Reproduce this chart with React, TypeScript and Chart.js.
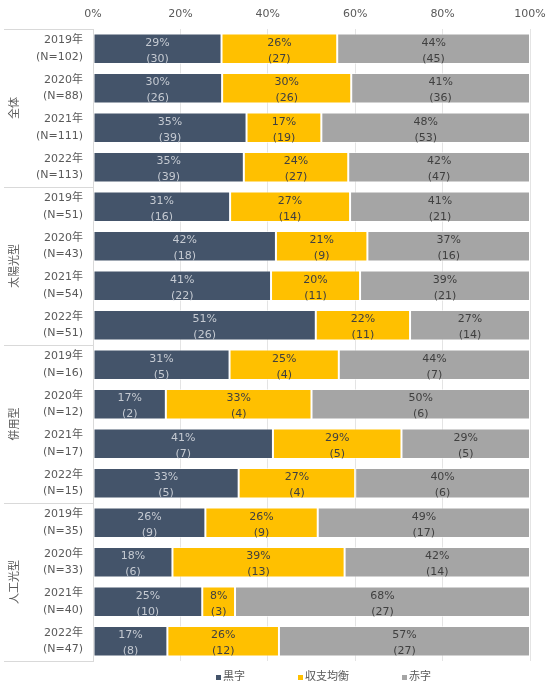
import React, { useEffect, useRef } from 'react';
import { Chart, registerables } from 'chart.js';

Chart.register(...registerables);

// ---- data ----
const yearLabels = [
  '2019年', '2020年', '2021年', '2022年',
  '2019年', '2020年', '2021年', '2022年',
  '2019年', '2020年', '2021年', '2022年',
  '2019年', '2020年', '2021年', '2022年',
];
const sampleN = [102, 88, 111, 113, 51, 43, 54, 51, 16, 12, 17, 15, 35, 33, 40, 47];
const groupNames = ['全体', '太陽光型', '併用型', '人工光型'];
const groupSize = 4;
const seriesNames = ['黒字', '収支均衡', '赤字'];
const kurojiCounts = [30, 26, 39, 39, 16, 18, 22, 26, 5, 2, 7, 5, 9, 6, 10, 8];
const kinkoCounts = [27, 26, 19, 27, 14, 9, 11, 11, 4, 4, 5, 4, 9, 13, 3, 12];
const akajiCounts = [45, 36, 53, 47, 21, 16, 21, 14, 7, 6, 5, 6, 17, 14, 27, 27];
const xTickValues = [0, 20, 40, 60, 80, 100];

const seriesColors = ['#44546A', '#FFC000', '#A5A5A5'];
const valueLabelColors = ['#C5CAD2', '#404040', '#404040'];
const FONT = '"DejaVu Sans", "Noto Sans CJK JP", sans-serif';

const seriesCounts = [kurojiCounts, kinkoCounts, akajiCounts];

const segmentLabelPlugin = {
  id: 'segmentLabels',
  afterDatasetsDraw(chart: any) {
    const ctx = chart.ctx;
    ctx.save();
    ctx.font = `11px ${FONT}`;
    ctx.textAlign = 'center';
    ctx.textBaseline = 'middle';
    chart.data.datasets.forEach((ds: any, di: number) => {
      const meta = chart.getDatasetMeta(di);
      meta.data.forEach((el: any, i: number) => {
        const cnt = seriesCounts[di][i];
        const pct = Math.round((cnt * 100) / sampleN[i]);
        const cx = (el.x + el.base) / 2;
        ctx.fillStyle = valueLabelColors[di];
        ctx.fillText(pct + '%', cx, el.y - 6);
        ctx.fillText('(' + cnt + ')', cx, el.y + 10);
      });
    });
    ctx.restore();
  },
};

const groupAxisPlugin = {
  id: 'groupAxis',
  afterDraw(chart: any) {
    const ctx = chart.ctx;
    const y = chart.scales.y;
    const left = chart.chartArea.left;
    const pitch = y.getPixelForValue(1) - y.getPixelForValue(0);
    ctx.save();
    ctx.strokeStyle = '#D9D9D9';
    ctx.lineWidth = 1;
    groupNames.forEach((name, g) => {
      const top = y.getPixelForValue(g * groupSize) - pitch / 2;
      const bottom = y.getPixelForValue(g * groupSize + groupSize - 1) + pitch / 2;
      const lines = g === groupNames.length - 1 ? [top, bottom] : [top];
      lines.forEach((ly) => {
        const py = Math.round(ly) + 0.5;
        ctx.beginPath();
        ctx.moveTo(4, py);
        ctx.lineTo(left, py);
        ctx.stroke();
      });
      ctx.save();
      ctx.translate(15, (top + bottom) / 2);
      ctx.rotate(-Math.PI / 2);
      ctx.font = `11px ${FONT}`;
      ctx.fillStyle = '#595959';
      ctx.textAlign = 'center';
      ctx.textBaseline = 'middle';
      ctx.fillText(name, 0, 0);
      ctx.restore();
    });
    ctx.restore();
  },
};

export default function App() {
  const ref = useRef<HTMLCanvasElement | null>(null);

  useEffect(() => {
    if (!ref.current) return;
    const labels = yearLabels.map((yl, i) => [yl, `(N=${sampleN[i]})`]);
    const datasets = seriesCounts.map((counts, si) => ({
      label: seriesNames[si],
      data: counts.map((c, i) => (c * 100) / sampleN[i]),
      backgroundColor: seriesColors[si],
      borderColor: 'rgba(255,255,255,0.55)',
      borderWidth: 1,
      borderSkipped: false,
      barPercentage: 0.77,
      categoryPercentage: 1,
    }));

    const chart = new Chart(ref.current, {
      type: 'bar',
      data: { labels, datasets },
      options: {
        indexAxis: 'y',
        responsive: false,
        animation: false,
        layout: { padding: { top: 0, right: 16, bottom: 24, left: 0 } },
        plugins: {
          legend: { display: false },
          tooltip: { enabled: false },
        },
        scales: {
          x: {
            position: 'top',
            stacked: true,
            min: 0,
            max: 100,
            afterBuildTicks(scale: any) {
              scale.ticks = xTickValues.map((v) => ({ value: v }));
            },
            afterFit(scale: any) {
              scale.height = 29;
              scale.paddingLeft = 0;
              scale.paddingRight = 0;
            },
            ticks: {
              callback: (v: any) => v + '%',
              color: '#595959',
              font: { family: FONT, size: 11 },
              padding: 8,
              maxRotation: 0,
            },
            grid: { color: '#E4E4E4', drawTicks: false, lineWidth: 1 },
            border: { display: false },
          },
          y: {
            stacked: true,
            afterFit(scale: any) {
              scale.width = 93;
              scale.paddingTop = 0;
              scale.paddingBottom = 0;
            },
            ticks: {
              autoSkip: false,
              color: '#595959',
              font: { family: FONT, size: 11, lineHeight: 1.5 },
              padding: 10,
            },
            grid: { display: false, drawTicks: false },
            border: { display: true, color: '#D9D9D9', width: 1 },
          },
        },
      },
      plugins: [segmentLabelPlugin, groupAxisPlugin],
    });
    return () => chart.destroy();
  }, []);

  return (
    <div style={{ position: 'fixed', left: 0, top: 0, width: 546, height: 685, background: '#fff' }}>
      <canvas ref={ref} width={546} height={685} />
      <div
        style={{
          position: 'absolute',
          left: 216,
          top: 670,
          display: 'flex',
          alignItems: 'center',
          gap: 53,
          fontFamily: FONT,
          fontSize: 11,
          lineHeight: '14px',
          color: '#595959',
        }}
      >
        {seriesNames.map((n, i) => (
          <div key={n} style={{ display: 'flex', alignItems: 'center' }}>
            <span style={{ display: 'inline-block', width: 5, height: 5, background: seriesColors[i], marginRight: 2 }} />
            <span>{n}</span>
          </div>
        ))}
      </div>
    </div>
  );
}
